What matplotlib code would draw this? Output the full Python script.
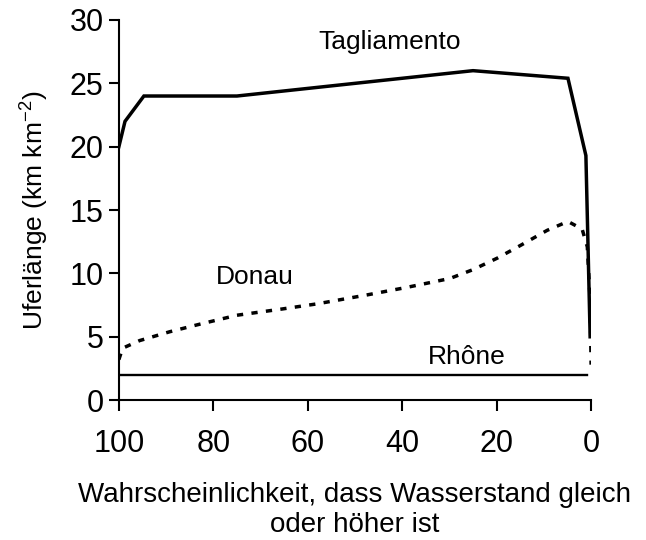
import matplotlib
matplotlib.use("Agg")
import matplotlib.pyplot as plt

plt.rcParams['font.family'] = ['Liberation Sans', 'DejaVu Sans']

# Tagliamento
tag_x = [100, 98.7, 94.7, 75, 25, 4.9, 1.1, 0.2]
tag_y = [20, 22, 24, 24, 26, 25.4, 19.3, 5.0]

# Donau
don_x = [100, 99.2, 95.6, 89.2, 82.8, 75, 65.3, 58, 47.5, 39, 29.9, 25, 19.9, 15, 9.3, 4.9, 1.9, 0.8, 0.2, 0]
don_y = [3.2, 4.1, 4.7, 5.4, 6.0, 6.7, 7.2, 7.6, 8.3, 8.9, 9.6, 10.3, 11.2, 12.2, 13.4, 14.1, 13.5, 12.1, 7.9, 2.8]

# Rhône
rho_x = [100, 0.8]
rho_y = [2, 2]

fig = plt.figure(figsize=(6.46, 5.4), dpi=100)
ax = fig.add_axes([0.184, 0.259, 0.731, 0.704])

ax.plot(tag_x, tag_y, color='black', lw=2.5, solid_joinstyle='miter')
ax.plot(don_x, don_y, color='black', lw=2.5, linestyle=(0, (1.8, 2.4)))
ax.plot(rho_x, rho_y, color='black', lw=1.7)

ax.text(42.6, 28.3, "Tagliamento", ha='center', va='center', fontsize=19)
ax.text(71.2, 9.7, "Donau", ha='center', va='center', fontsize=19)
ax.text(26.3, 3.4, "Rhône", ha='center', va='center', fontsize=19)

ax.set_xlim(100, 0)
ax.set_ylim(0, 30)
ax.set_xticks([100, 80, 60, 40, 20, 0])
ax.set_yticks([0, 5, 10, 15, 20, 25, 30])
ax.spines['top'].set_visible(False)
ax.spines['right'].set_visible(False)
ax.spines['left'].set_linewidth(1.5)
ax.spines['bottom'].set_linewidth(1.5)
ax.tick_params(axis='both', direction='out', width=1.5, length=7, labelsize=22)
ax.tick_params(axis='x', pad=13, length=8)
ax.tick_params(axis='y', pad=4)

ax.set_ylabel("Uferlänge (km km$^{\\mathregular{-2}}$)", fontsize=19, labelpad=14)
ax.set_xlabel("Wahrscheinlichkeit, dass Wasserstand gleich\noder höher ist", fontsize=20,
              linespacing=1.22, labelpad=16)

fig.savefig("out.png", dpi=100)
